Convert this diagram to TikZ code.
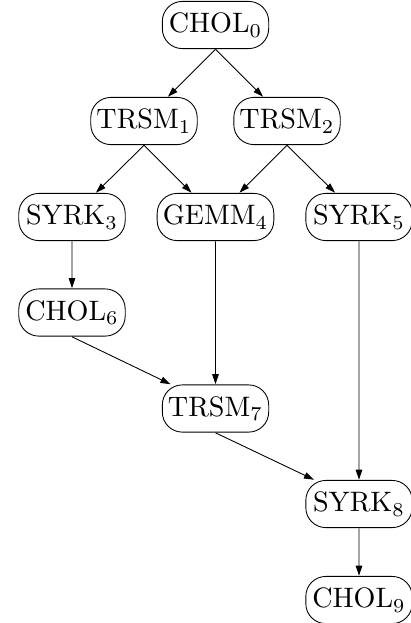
\documentclass[tikz,border=0pt]{standalone}
\usepackage{tikz}
\usetikzlibrary{arrows.meta}

\begin{document}
\begin{tikzpicture}[
        x=0.02cm, y=-0.02cm,
        task/.style={rectangle, draw, fill=white, scale=1.6, transform shape, rounded corners=0.4cm, minimum width=1.33cm, minimum height=0.59cm, inner xsep=2pt, line width=0.5pt},
        arrow/.style={draw, -{Triangle[length=0.2cm, width=0.13cm]}, line width=0.5pt}
    ]
    \useasboundingbox (0,0) rectangle (411,623);

    % Level 0 and 1
    \node [task] (chol0) at (215.5,25) {CHOL$_0$};
    \node [task] (trsm1) at (144,121) {TRSM$_1$};
    \node [task] (trsm2) at (287,121) {TRSM$_2$};

    % Level 2
    \node [task] (syrk3) at (72,217) {SYRK$_3$};
    \node [task] (gemm4) at (215.5,217) {GEMM$_4$};
    \node [task] (syrk5) at (359,217) {SYRK$_5$};

    % Lower levels
    \node [task] (chol6) at (72,312.5) {CHOL$_6$};
    \node [task] (trsm7) at (215.5,408.5) {TRSM$_7$};
    \node [task] (syrk8) at (359,504) {SYRK$_8$};
    \node [task] (chol9) at (359,600) {CHOL$_9$};

    % Edges
    \path [arrow] (chol0.south) -- ([xshift=0.48cm]trsm1.north);
    \path [arrow] (chol0.south) -- ([xshift=-0.48cm]trsm2.north);
    \path [arrow] (trsm1.south) -- ([xshift=0.48cm]syrk3.north);
    \path [arrow] (trsm1.south) -- ([xshift=-0.48cm]gemm4.north);
    \path [arrow] (trsm2.south) -- ([xshift=0.48cm]gemm4.north);
    \path [arrow] (trsm2.south) -- ([xshift=-0.48cm]syrk5.north);
    \path [arrow] (syrk3) -- (chol6);
    \path [arrow] (chol6.south) -- ([xshift=-0.9cm]trsm7.north);
    \path [arrow] (gemm4) -- (trsm7);
    \path [arrow] (trsm7.south) -- ([xshift=-0.9cm]syrk8.north);
    \path [arrow] (syrk5) -- (syrk8);
    \path [arrow] (syrk8) -- (chol9);

\end{tikzpicture}
\end{document}
